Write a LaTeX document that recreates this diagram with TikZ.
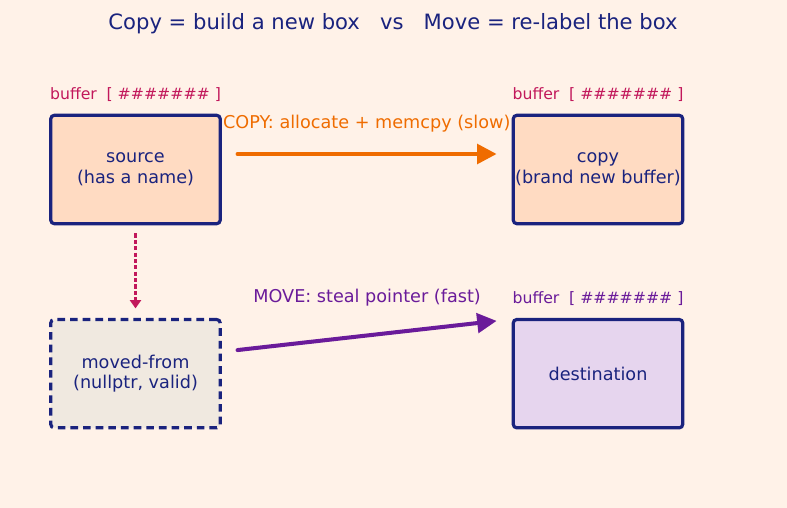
\documentclass[tikz,border=0pt]{standalone}
\usepackage{fontspec}
\setmainfont{DejaVu Sans}
\usetikzlibrary{positioning,arrows.meta}

\definecolor{bgpeach}{HTML}{FFF2E8}
\definecolor{navy}{HTML}{1A237E}
\definecolor{peachfill}{HTML}{FFDBC2}
\definecolor{greyfill}{HTML}{F0E9E0}
\definecolor{lavfill}{HTML}{E6D5EE}
\definecolor{crimson}{HTML}{C2185B}
\definecolor{copyorange}{HTML}{EF6C00}
\definecolor{movepurple}{HTML}{6A1B9A}

\tikzset{
    membox/.style={draw=navy, line width=2.3pt, rounded corners=2.5pt, align=center,
        minimum width=122pt, minimum height=78pt, inner sep=0pt, outer sep=0pt,
        text=navy, font=\fontsize{12.7}{15}\selectfont},
    buflabel/.style={font=\fontsize{11.3}{13}\selectfont, inner sep=0pt},
    arrowlabel/.style={font=\fontsize{12.7}{15}\selectfont, inner sep=0pt},
}
\newcommand{\buftext}{buffer\hspace{7pt}[ \#\#\#\#\#\#\# ]}

\begin{document}
\begin{tikzpicture}[x=0.72pt, y=-0.72pt]
    \fill[bgpeach] (0,0) rectangle (787,508);
    \useasboundingbox (0,0) rectangle (787,508);

    \node[text=navy, font=\fontsize{15.2}{18}\selectfont] (title) at (393,24)
        {Copy = build a new box \ \ vs \ \ Move = re-label the box};

    \node[membox, fill=peachfill] (source) at (135.5,169.5) {source\\(has a name)};
    \node[membox, fill=peachfill, right=211pt of source] (copy) {copy\\(brand new buffer)};
    \node[membox, fill=greyfill, dashed, dash pattern=on 5.5pt off 3.6pt, below=69pt of source] (moved) {moved-from\\(nullptr, valid)};
    \node[membox, fill=lavfill, right=211pt of moved] (dest) {destination};

    \node[buflabel, text=crimson] (srcbuf) at ([yshift=15pt]source.north) {\buftext};
    \node[buflabel, text=crimson] (copybuf) at ([yshift=15pt]copy.north) {\buftext};
    \node[buflabel, text=movepurple] (destbuf) at ([yshift=15pt]dest.north) {\buftext};

    \draw[copyorange, line width=2.9pt, line cap=round, -{Triangle[length=14pt,width=14pt]},
        shorten <=12.5pt, shorten >=12pt] (source.east |- 0,154) -- (copy.west |- 0,154)
        node[arrowlabel, midway, yshift=22pt, text=copyorange] (copylbl) {COPY: allocate + memcpy (slow)};
    \draw[movepurple, line width=2.9pt, line cap=round, -{Triangle[length=14pt,width=14pt]}]
        ([xshift=12.5pt,yshift=17pt]moved.east) -- ([xshift=-12pt,yshift=38pt]dest.west)
        node[arrowlabel, midway, yshift=27pt, text=movepurple] (movelbl) {MOVE: steal pointer (fast)};
    \draw[crimson, line width=2.2pt, dash pattern=on 3pt off 1.6pt, -{Triangle[length=6pt,width=8pt]},
        shorten <=7pt, shorten >=8pt] (source) -- (moved);
\end{tikzpicture}
\end{document}
